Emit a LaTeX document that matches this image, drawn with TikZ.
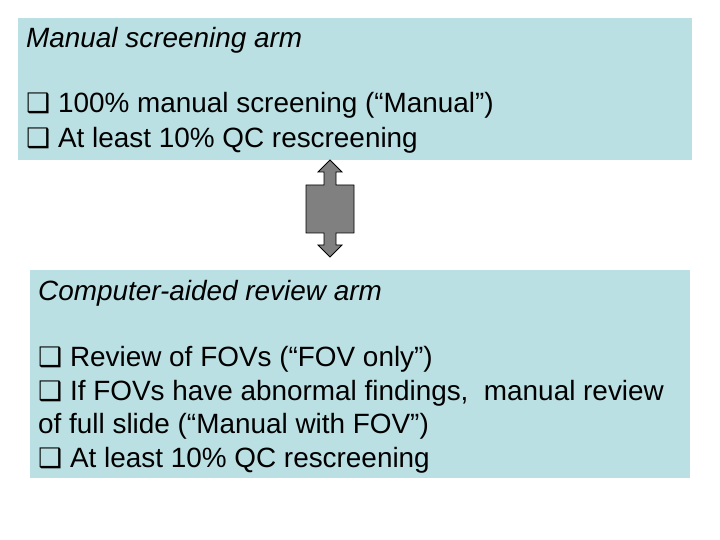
\documentclass[tikz,border=0pt]{standalone}
\usepackage{fontspec}
\setmainfont{Liberation Sans}
\newfontfamily\dingfont{DejaVu Sans}
\usetikzlibrary{positioning}

\definecolor{armblue}{RGB}{187,224,227}
\definecolor{arrowgray}{RGB}{128,128,128}
\tikzset{
  armbox/.style={fill=armblue,draw=none,inner sep=0pt},
  armline/.style={anchor=base west,inner sep=0pt,font=\fontsize{28}{32}\selectfont},
}
\newcommand{\qbox}{{\dingfont\fontsize{27}{32}\selectfont ❑}}

\begin{document}
\begin{tikzpicture}[x=1bp,y=-1bp]
        \useasboundingbox (0,0) rectangle (720,540);
        \def\ya{48} \def\yb{113} \def\yc{148}
        \def\yd{300} \def\ye{366} \def\yf{400} \def\yg{433} \def\yh{467}

        \node (manual) [armbox,minimum width=674bp,minimum height=142bp,anchor=north west] at (18,18) {};
        \node (cad) [armbox,minimum width=660bp,minimum height=208bp,anchor=north west] at (30,270) {};

        \node (mtitle) at (26,\ya) [armline] {\itshape Manual screening arm};
        \node (mfirst) at (26,\yb) [armline] {\qbox\ 100\% manual screening (“Manual”)};
        \node (msecond) at (26,\yc) [armline] {\qbox\ At least 10\% QC rescreening};

        \node (ctitle) at (38,\yd) [armline] {\itshape Computer-aided review arm};
        \node (cfirst) at (38,\ye) [armline] {\qbox\ Review of FOVs (“FOV only”)};
        \node (csecond) at (38,\yf) [armline] {\qbox\ If FOVs have abnormal findings,\ \ manual review};
        \node (cthird) at (38,\yg) [armline] {of full slide (“Manual with FOV”)};
        \node (cfourth) at (38,\yh) [armline] {\qbox\ At least 10\% QC rescreening};

        \fill [arrowgray,draw=black,line width=0.8bp]
        (330,160)
        -- (342,172)
        -- (336,172)
        -- (336,185)
        -- (354,185)
        -- (354,233)
        -- (336,233)
        -- (336,245)
        -- (342,245)
        -- (330,257)
        -- (318,245)
        -- (324,245)
        -- (324,233)
        -- (306,233)
        -- (306,185)
        -- (324,185)
        -- (324,172)
        -- (318,172)
        -- cycle;
        \end{tikzpicture}
\end{document}
